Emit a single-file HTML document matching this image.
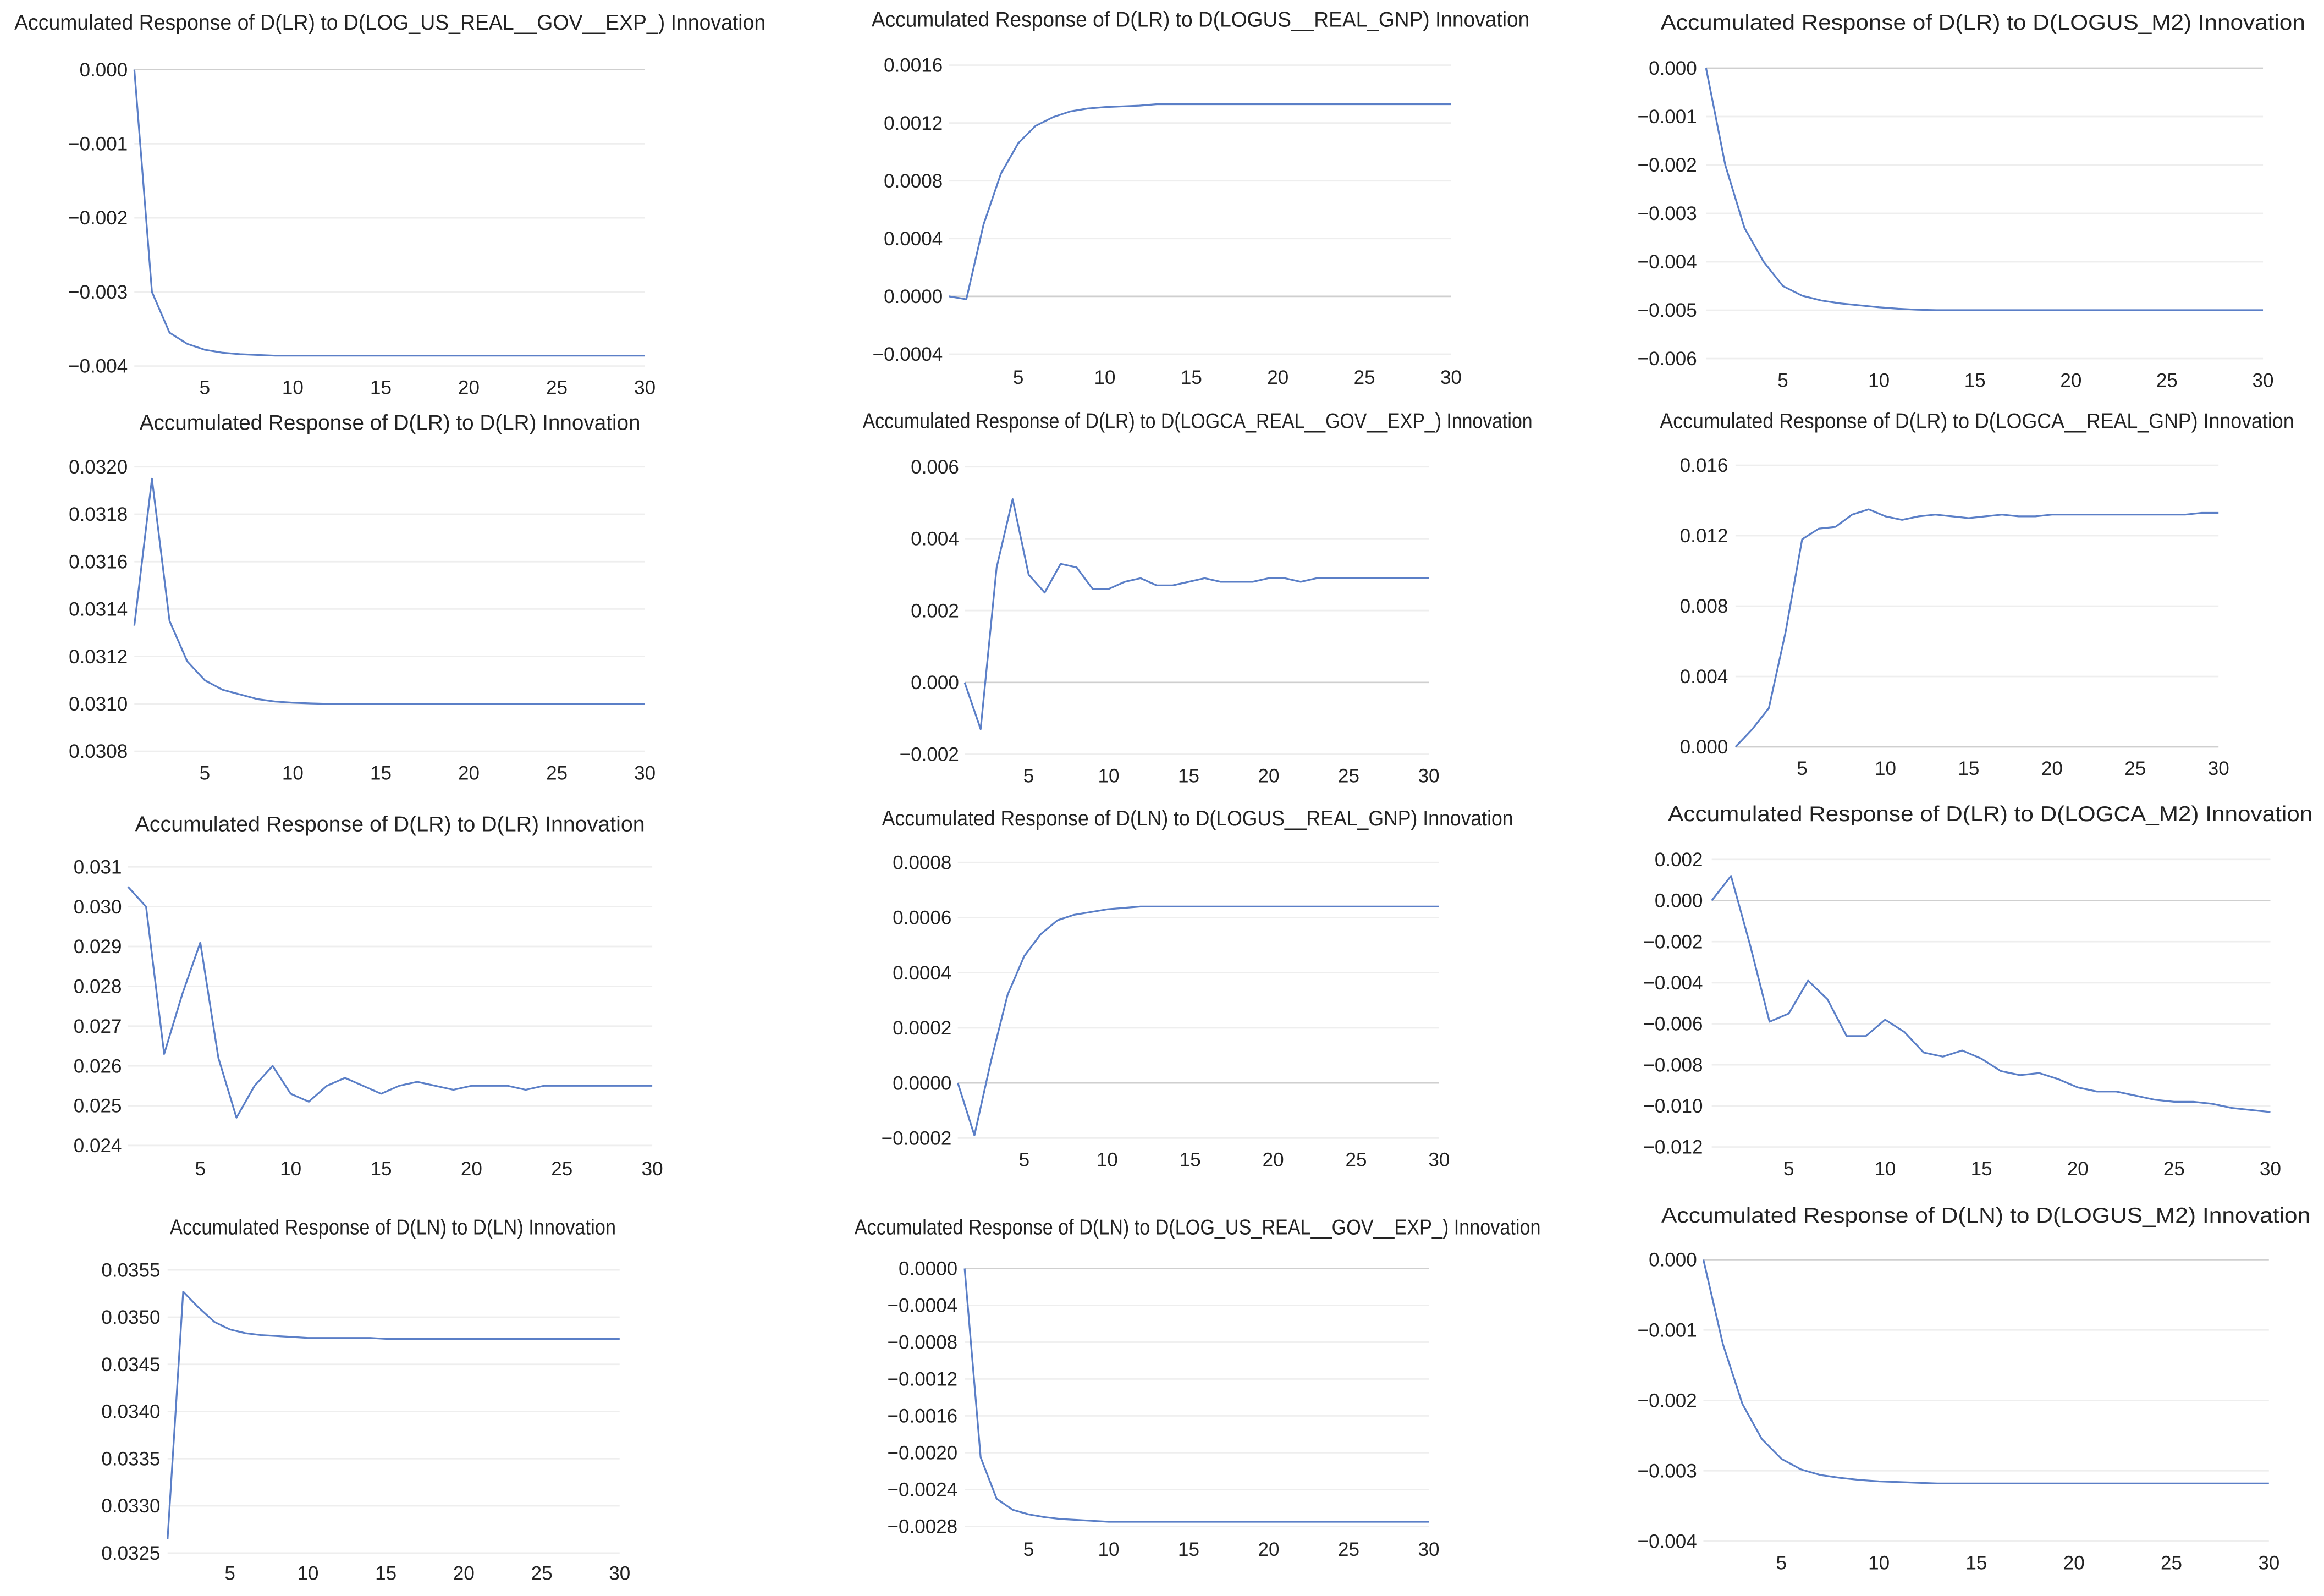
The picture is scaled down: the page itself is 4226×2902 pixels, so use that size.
<!DOCTYPE html>
<html>
<head>
<meta charset="utf-8">
<style>
html,body{margin:0;padding:0;background:#fff;}
svg{display:block;}
text{font-family:"Liberation Sans",sans-serif;fill:#222;}
</style>
</head>
<body>
<svg id="chart" width="4226" height="2902" viewBox="0 0 1568 1077" xmlns="http://www.w3.org/2000/svg">
<rect x="0" y="0" width="1568" height="1077" fill="#ffffff"></rect>
</svg>
<script>
const xTicks = [5, 10, 15, 20, 25, 30];
const titles = [
"Accumulated Response of D(LR) to D(LOG_US_REAL__GOV__EXP_) Innovation",
"Accumulated Response of D(LR) to D(LOGUS__REAL_GNP) Innovation",
"Accumulated Response of D(LR) to D(LOGUS_M2) Innovation",
"Accumulated Response of D(LR) to D(LR) Innovation",
"Accumulated Response of D(LR) to D(LOGCA_REAL__GOV__EXP_) Innovation",
"Accumulated Response of D(LR) to D(LOGCA__REAL_GNP) Innovation",
"Accumulated Response of D(LR) to D(LR) Innovation",
"Accumulated Response of D(LN) to D(LOGUS__REAL_GNP) Innovation",
"Accumulated Response of D(LR) to D(LOGCA_M2) Innovation",
"Accumulated Response of D(LN) to D(LN) Innovation",
"Accumulated Response of D(LN) to D(LOG_US_REAL__GOV__EXP_) Innovation",
"Accumulated Response of D(LN) to D(LOGUS_M2) Innovation"
];
const t1 = [0.000,-0.001,-0.002,-0.003,-0.004];
const t2 = [0.0016,0.0012,0.0008,0.0004,0.0000,-0.0004];
const t3 = [0.000,-0.001,-0.002,-0.003,-0.004,-0.005,-0.006];
const t4 = [0.0320,0.0318,0.0316,0.0314,0.0312,0.0310,0.0308];
const t5 = [0.006,0.004,0.002,0.000,-0.002];
const t6 = [0.016,0.012,0.008,0.004,0.000];
const t7 = [0.031,0.030,0.029,0.028,0.027,0.026,0.025,0.024];
const t8 = [0.0008,0.0006,0.0004,0.0002,0.0000,-0.0002];
const t9 = [0.002,0.000,-0.002,-0.004,-0.006,-0.008,-0.010,-0.012];
const t10 = [0.0355,0.0350,0.0345,0.0340,0.0335,0.0330,0.0325];
const t11 = [0.0000,-0.0004,-0.0008,-0.0012,-0.0016,-0.0020,-0.0024,-0.0028];
const t12 = [0.000,-0.001,-0.002,-0.003,-0.004];
const tickDec = [3,4,3,4,3,3,3,4,3,4,4,3];

const v1 = [0,-0.0030,-0.00355,-0.0037,-0.00378,-0.00382,-0.00384,-0.00385,-0.00386,-0.00386,-0.00386,-0.00386,-0.00386,-0.00386,-0.00386,-0.00386,-0.00386,-0.00386,-0.00386,-0.00386,-0.00386,-0.00386,-0.00386,-0.00386,-0.00386,-0.00386,-0.00386,-0.00386,-0.00386,-0.00386];
const v2 = [0,-0.00002,0.0005,0.00085,0.00106,0.00118,0.00124,0.00128,0.0013,0.00131,0.001315,0.00132,0.00133,0.00133,0.00133,0.00133,0.00133,0.00133,0.00133,0.00133,0.00133,0.00133,0.00133,0.00133,0.00133,0.00133,0.00133,0.00133,0.00133,0.00133];
const v3 = [0,-0.002,-0.0033,-0.004,-0.0045,-0.0047,-0.0048,-0.00486,-0.0049,-0.00494,-0.00497,-0.00499,-0.005,-0.005,-0.005,-0.005,-0.005,-0.005,-0.005,-0.005,-0.005,-0.005,-0.005,-0.005,-0.005,-0.005,-0.005,-0.005,-0.005,-0.005];
const v4 = [0.03133,0.03195,0.03135,0.03118,0.0311,0.03106,0.03104,0.03102,0.03101,0.031005,0.031002,0.0310,0.0310,0.0310,0.0310,0.0310,0.0310,0.0310,0.0310,0.0310,0.0310,0.0310,0.0310,0.0310,0.0310,0.0310,0.0310,0.0310,0.0310,0.0310];
const v5 = [0,-0.0013,0.0032,0.0051,0.0030,0.0025,0.0033,0.0032,0.0026,0.0026,0.0028,0.0029,0.0027,0.0027,0.0028,0.0029,0.0028,0.0028,0.0028,0.0029,0.0029,0.0028,0.0029,0.0029,0.0029,0.0029,0.0029,0.0029,0.0029,0.0029];
const v6 = [0,0.001,0.0022,0.0065,0.0118,0.0124,0.0125,0.0132,0.0135,0.0131,0.0129,0.0131,0.0132,0.0131,0.0130,0.0131,0.0132,0.0131,0.0131,0.0132,0.0132,0.0132,0.0132,0.0132,0.0132,0.0132,0.0132,0.0132,0.0133,0.0133];
const v7 = [0.0305,0.0300,0.0263,0.0278,0.0291,0.0262,0.0247,0.0255,0.0260,0.0253,0.0251,0.0255,0.0257,0.0255,0.0253,0.0255,0.0256,0.0255,0.0254,0.0255,0.0255,0.0255,0.0254,0.0255,0.0255,0.0255,0.0255,0.0255,0.0255,0.0255];
const v8 = [0,-0.00019,0.00008,0.00032,0.00046,0.00054,0.00059,0.00061,0.00062,0.00063,0.000635,0.00064,0.00064,0.00064,0.00064,0.00064,0.00064,0.00064,0.00064,0.00064,0.00064,0.00064,0.00064,0.00064,0.00064,0.00064,0.00064,0.00064,0.00064,0.00064];
const v9 = [0,0.0012,-0.0022,-0.0059,-0.0055,-0.0039,-0.0048,-0.0066,-0.0066,-0.0058,-0.0064,-0.0074,-0.0076,-0.0073,-0.0077,-0.0083,-0.0085,-0.0084,-0.0087,-0.0091,-0.0093,-0.0093,-0.0095,-0.0097,-0.0098,-0.0098,-0.0099,-0.0101,-0.0102,-0.0103];
const v10 = [0.03265,0.03527,0.0351,0.03495,0.03487,0.03483,0.03481,0.0348,0.03479,0.03478,0.03478,0.03478,0.03478,0.03478,0.03477,0.03477,0.03477,0.03477,0.03477,0.03477,0.03477,0.03477,0.03477,0.03477,0.03477,0.03477,0.03477,0.03477,0.03477,0.03477];
const v11 = [0,-0.00205,-0.0025,-0.00262,-0.00267,-0.0027,-0.00272,-0.00273,-0.00274,-0.00275,-0.00275,-0.00275,-0.00275,-0.00275,-0.00275,-0.00275,-0.00275,-0.00275,-0.00275,-0.00275,-0.00275,-0.00275,-0.00275,-0.00275,-0.00275,-0.00275,-0.00275,-0.00275,-0.00275,-0.00275];
const v12 = [0,-0.0012,-0.00205,-0.00255,-0.00283,-0.00298,-0.00306,-0.0031,-0.00313,-0.00315,-0.00316,-0.00317,-0.00318,-0.00318,-0.00318,-0.00318,-0.00318,-0.00318,-0.00318,-0.00318,-0.00318,-0.00318,-0.00318,-0.00318,-0.00318,-0.00318,-0.00318,-0.00318,-0.00318,-0.00318];

const tickSets = [t1,t2,t3,t4,t5,t6,t7,t8,t9,t10,t11,t12];
const valueSets = [v1,v2,v3,v4,v5,v6,v7,v8,v9,v10,v11,v12];

// layout: title center, title y, title width, label right x, first tick y, last tick y, x-pixel of step 5, x-pixel of step 30, x-label y
const layout = [
 {tc:263,ty:20,tw:507,lx:86,yt:47,yb:247,x5:138,x30:435,xl:266},
 {tc:810,ty:18,tw:444,lx:636,yt:44,yb:239,x5:687,x30:979,xl:259},
 {tc:1338,ty:20,tw:435,lx:1145,yt:46,yb:242,x5:1203,x30:1527,xl:261},
 {tc:263,ty:290,tw:338,lx:86,yt:315,yb:507,x5:138,x30:435,xl:526},
 {tc:808,ty:289,tw:452,lx:647,yt:315,yb:509,x5:694,x30:964,xl:528},
 {tc:1334,ty:289,tw:428,lx:1166,yt:314,yb:504,x5:1216,x30:1497,xl:523},
 {tc:263,ty:561,tw:344,lx:82,yt:585,yb:773,x5:135,x30:440,xl:793},
 {tc:808,ty:557,tw:426,lx:642,yt:582,yb:768,x5:691,x30:971,xl:787},
 {tc:1343,ty:554,tw:435,lx:1149,yt:580,yb:774,x5:1207,x30:1532,xl:793},
 {tc:265,ty:833,tw:301,lx:108,yt:857,yb:1048,x5:155,x30:418,xl:1066},
 {tc:808,ty:833,tw:463,lx:646,yt:856,yb:1030,x5:694,x30:964,xl:1050},
 {tc:1340,ty:825,tw:438,lx:1145,yt:850,yb:1040,x5:1202,x30:1531,xl:1059}
];

const NS = "http://www.w3.org/2000/svg";
const svg = document.getElementById("chart");
function mk(tag, attrs, parent){
  const e = document.createElementNS(NS, tag);
  for (const k in attrs) e.setAttribute(k, attrs[k]);
  parent.appendChild(e);
  return e;
}

for (let p = 0; p < 12; p++) {
  const L = layout[p], ticks = tickSets[p], vals = valueSets[p];
  const g = mk("g", {}, svg);
  
  
  const step = (L.x30 - L.x5) / 25;
  const xScale = i => L.x5 + (i - 5) * step;
  const tMax = ticks[0], tMin = ticks[ticks.length-1];
  const yScale = v => L.yt + (tMax - v) / (tMax - tMin) * (L.yb - L.yt);
  const xLeft = xScale(1), xRight = xScale(30);

  const title = mk("text", {x:L.tc, y:L.ty, "text-anchor":"middle", "font-size":"14.5", textLength:L.tw, lengthAdjust:"spacingAndGlyphs"}, g);
  title.textContent = titles[p];
  
  

  ticks.forEach(t => {
    const y = yScale(t);
    const isZero = Math.abs(t) < 1e-12;
    const gl = mk("line", {x1:xLeft, x2:xRight, y1:y, y2:y, stroke:isZero ? "#cfcfcf" : "#eeeeee", "stroke-width":"1"}, g);
    
    
    const lbl = mk("text", {x:L.lx, y:y+4.5, "text-anchor":"end", "font-size":"13"}, g);
    lbl.textContent = (t < 0 ? "\u2212" : "") + Math.abs(t).toFixed(tickDec[p]);
    
    
  });

  xTicks.forEach(xt => {
    const lbl = mk("text", {x:xScale(xt), y:L.xl, "text-anchor":"middle", "font-size":"13"}, g);
    lbl.textContent = String(xt);
    
    
  });

  const pts = vals.map((v, i) => xScale(i+1).toFixed(2) + "," + yScale(v).toFixed(2)).join(" ");
  const line = mk("polyline", {points:pts, fill:"none", stroke:"#5b7fc7", "stroke-width":"1.2", "stroke-linejoin":"round"}, g);
  
  
}
</script>
</body>
</html>
